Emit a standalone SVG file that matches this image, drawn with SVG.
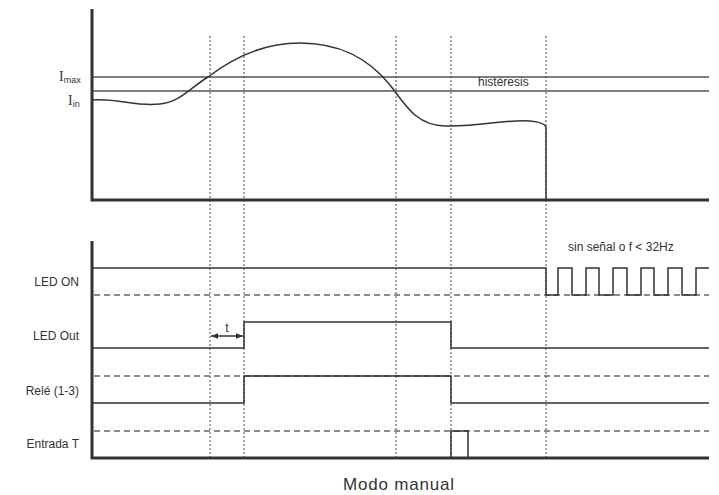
<svg xmlns="http://www.w3.org/2000/svg" width="719" height="495" viewBox="0 0 719 495">
<style>
.axis{stroke:#333;stroke-width:3;fill:none}
.lvl{stroke:#555;stroke-width:1.5;fill:none}
.curve{stroke:#333;stroke-width:1.5;fill:none}
.dot{stroke:#444;stroke-width:1;stroke-dasharray:2,2;fill:none}
.dash{stroke:#666;stroke-width:1.5;stroke-dasharray:6,4;fill:none}
.sig{stroke:#333;stroke-width:1.5;fill:none}
.lbl{font-family:"Liberation Sans",Arial,sans-serif;font-size:12px;fill:#333}
</style>
<defs>
<marker id="ah" viewBox="0 0 10 10" refX="10" refY="5" markerWidth="7" markerHeight="7" orient="auto-start-reverse" markerUnits="userSpaceOnUse">
<path d="M0,1 L10,5 L0,9 z" fill="#333"/>
</marker>
</defs>
<rect width="719" height="495" fill="#fff"/>
<g id="top-chart">
<line class="lvl" x1="92" y1="77" x2="709" y2="77"/>
<line class="lvl" x1="92" y1="91" x2="709" y2="91"/>
<path class="curve" d="M92,100 C120,98 135,107 160,104 C180,102 190,88 208,77 C230,60 260,43 300,43 C340,43 368,58 390,85 C405,104 415,125 445,126 C480,127 505,119 530,121 C540,122 545,124 546,127 L546,200"/>
<path class="axis" d="M92,9 L92,200 L709,200"/>
<text x="59" y="81" style="font-family:'Liberation Serif',serif;font-size:14px;fill:#333">I<tspan dy="2" style="font-family:'Liberation Sans',sans-serif;font-size:9px">max</tspan></text>
<text x="68" y="105" style="font-family:'Liberation Serif',serif;font-size:14px;fill:#333">I<tspan dy="2" style="font-family:'Liberation Sans',sans-serif;font-size:9px">in</tspan></text>
<text class="lbl" x="478" y="86">histéresis</text>
</g>
<g id="connectors">
<line class="dot" x1="210" y1="36" x2="210" y2="458"/>
<line class="dot" x1="244" y1="36" x2="244" y2="458"/>
<line class="dot" x1="396" y1="36" x2="396" y2="458"/>
<line class="dot" x1="451" y1="36" x2="451" y2="458"/>
<line class="dot" x1="546" y1="36" x2="546" y2="458"/>
</g>
<g id="led-on">
<line class="dash" x1="94" y1="295" x2="709" y2="295"/>
<path class="sig" d="M92,268 L546,268 L546,295 L558,295 L558,268 L572,268 L572,295 L586,295 L586,268 L599,268 L599,295 L613,295 L613,268 L627,268 L627,295 L641,295 L641,268 L654,268 L654,295 L668,295 L668,268 L682,268 L682,295 L696,295 L696,268 L709,268"/>
<text class="lbl" x="79" y="286" text-anchor="end">LED ON</text>
<text class="lbl" x="568" y="251">sin señal o f &lt; 32Hz</text>
</g>
<g id="led-out">
<path class="sig" d="M92,348 L244,348 L244,322 L451,322 L451,348 L709,348"/>
<line class="sig" x1="211" y1="336" x2="243" y2="336" marker-start="url(#ah)" marker-end="url(#ah)"/>
<text class="lbl" x="227" y="332" text-anchor="middle">t</text>
<text class="lbl" x="79" y="340" text-anchor="end">LED Out</text>
</g>
<g id="rele">
<line class="dash" x1="94" y1="376" x2="709" y2="376"/>
<path class="sig" d="M92,403 L244,403 L244,376 L451,376 L451,403 L709,403"/>
<text class="lbl" x="79" y="395" text-anchor="end">Relé (1-3)</text>
</g>
<g id="entrada-t">
<line class="dash" x1="94" y1="431" x2="709" y2="431"/>
<path class="sig" d="M451,458 L451,431 L468,431 L468,458"/>
<text class="lbl" x="79" y="448" text-anchor="end">Entrada T</text>
</g>
<g id="bottom-axis">
<path class="axis" d="M92,241 L92,458 L709,458"/>
</g>
<text x="399" y="490" text-anchor="middle" style="font-family:'Liberation Sans',Arial,sans-serif;font-size:17px;letter-spacing:0.8px;fill:#333">Modo manual</text>
</svg>
